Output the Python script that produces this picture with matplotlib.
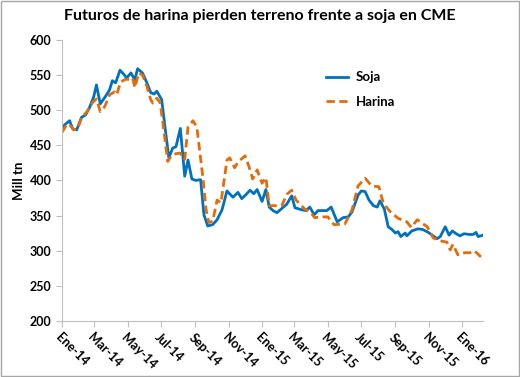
import matplotlib
matplotlib.use("Agg")
import matplotlib.pyplot as plt
import pandas as pd

plt.rcParams['font.family'] = ['Lato', 'DejaVu Sans']

# Soja
soja_fechas = [
    "2014-01-01", "2014-01-06", "2014-01-15", "2014-01-21", "2014-01-28", "2014-02-06",
    "2014-02-13", "2014-02-20", "2014-02-28", "2014-03-05", "2014-03-12", "2014-03-21",
    "2014-03-29", "2014-04-03", "2014-04-09", "2014-04-17", "2014-04-24", "2014-04-29",
    "2014-05-07", "2014-05-14", "2014-05-19", "2014-05-28", "2014-06-05", "2014-06-12",
    "2014-06-18", "2014-06-23", "2014-07-02", "2014-07-08", "2014-07-15", "2014-07-22",
    "2014-07-28", "2014-08-05", "2014-08-13", "2014-08-19", "2014-08-26", "2014-09-02",
    "2014-09-11", "2014-09-17", "2014-09-24", "2014-10-03", "2014-10-11", "2014-10-20",
    "2014-10-29", "2014-11-09", "2014-11-18", "2014-11-25", "2014-12-03", "2014-12-10",
    "2014-12-17", "2014-12-23", "2015-01-01", "2015-01-08", "2015-01-14", "2015-01-21",
    "2015-01-28", "2015-02-06", "2015-02-15", "2015-02-24", "2015-03-02", "2015-03-15",
    "2015-03-22", "2015-03-29", "2015-04-06", "2015-04-13", "2015-04-29", "2015-05-07",
    "2015-05-18", "2015-05-29", "2015-06-07", "2015-06-14", "2015-06-20", "2015-06-25",
    "2015-07-01", "2015-07-08", "2015-07-15", "2015-07-23", "2015-07-30", "2015-08-04",
    "2015-08-12", "2015-08-19", "2015-08-26", "2015-09-01", "2015-09-06", "2015-09-11",
    "2015-09-19", "2015-09-22", "2015-10-01", "2015-10-12", "2015-10-21", "2015-10-31",
    "2015-11-09", "2015-11-16", "2015-11-22", "2015-12-01", "2015-12-08", "2015-12-14",
    "2015-12-21", "2015-12-28", "2016-01-04", "2016-01-14", "2016-01-21", "2016-01-26",
    "2016-01-30", "2016-02-08",
]
soja = [
    475, 479, 485, 473, 472, 490,
    493, 503, 519, 536, 509, 519,
    529, 542, 539, 557, 551, 546,
    553, 543, 559, 553, 539, 525,
    523, 527, 515, 476, 432, 446,
    448, 474, 406, 429, 402, 400,
    401, 351, 335, 337, 344, 358,
    385, 376, 383, 374, 380, 386,
    381, 387, 370, 387, 362, 357,
    354, 360, 366, 378, 361, 358,
    357, 362, 351, 357, 357, 362,
    341, 347, 348, 355, 368, 379,
    385, 384, 372, 364, 362, 371,
    359, 334, 330, 325, 327, 320,
    325, 321, 328, 331, 330, 326,
    321, 317, 320, 334, 322, 328,
    324, 321, 324, 323, 323, 326,
    320, 322,
]

# Harina
harina_fechas = [
    "2014-01-01", "2014-01-10", "2014-01-15", "2014-01-23", "2014-01-30", "2014-02-06",
    "2014-02-15", "2014-02-26", "2014-03-05", "2014-03-12", "2014-03-20", "2014-03-29",
    "2014-04-07", "2014-04-11", "2014-04-18", "2014-04-27", "2014-05-05", "2014-05-10",
    "2014-05-14", "2014-05-21", "2014-05-28", "2014-06-05", "2014-06-12", "2014-06-16",
    "2014-06-23", "2014-06-29", "2014-07-04", "2014-07-13", "2014-07-20", "2014-07-28",
    "2014-08-04", "2014-08-13", "2014-08-19", "2014-08-28", "2014-09-04", "2014-09-15",
    "2014-09-21", "2014-09-26", "2014-10-03", "2014-10-11", "2014-10-18", "2014-10-29",
    "2014-11-03", "2014-11-12", "2014-11-18", "2014-12-01", "2014-12-08", "2014-12-15",
    "2014-12-23", "2015-01-01", "2015-01-08", "2015-01-14", "2015-01-25", "2015-02-06",
    "2015-02-15", "2015-02-24", "2015-03-04", "2015-03-20", "2015-03-31", "2015-04-07",
    "2015-04-22", "2015-05-01", "2015-05-12", "2015-06-01", "2015-06-14", "2015-06-25",
    "2015-07-02", "2015-07-08", "2015-07-20", "2015-08-02", "2015-08-10", "2015-08-22",
    "2015-09-06", "2015-09-22", "2015-09-30", "2015-10-11", "2015-10-29", "2015-11-09",
    "2015-11-22", "2015-12-04", "2015-12-10", "2015-12-15", "2015-12-24", "2016-01-06",
    "2016-01-15", "2016-01-23", "2016-02-04",
]
harina = [
    468, 480, 479, 472, 474, 490,
    497, 511, 516, 498, 505, 522,
    526, 522, 540, 544, 544, 546,
    532, 553, 550, 534, 515, 510,
    517, 511, 483, 427, 436, 438,
    439, 430, 476, 485, 476, 405,
    358, 340, 342, 372, 368, 429,
    432, 418, 426, 435, 420, 402,
    415, 396, 404, 364, 364, 364,
    380, 386, 372, 359, 354, 347,
    348, 348, 337, 338, 358, 392,
    398, 403, 392, 391, 368, 356,
    346, 341, 333, 344, 334, 318,
    314, 312, 301, 309, 294, 297,
    297, 300, 291,
]

etiquetas = ["Ene-14", "Mar-14", "May-14", "Jul-14", "Sep-14", "Nov-14", "Ene-15",
             "Mar-15", "May-15", "Jul-15", "Sep-15", "Nov-15", "Ene-16"]
ticks = pd.date_range("2014-01-01", "2016-01-01", freq="2MS")

fig = plt.figure(figsize=(5.2, 3.77), dpi=100)
ax = fig.add_axes([0.119, 0.149, 0.81, 0.745])

ax.plot(pd.to_datetime(soja_fechas), soja, color="#0070C0", lw=2.0, label="Soja")
ax.plot(pd.to_datetime(harina_fechas), harina, color="#E36C09", lw=2.0,
        ls=(0, (3, 1.6)), label="Harina")

ax.set_ylim(200, 600)
ax.set_yticks(range(200, 601, 50))
ax.set_xlim(pd.Timestamp("2014-01-01"), pd.Timestamp("2016-02-08"))
ax.set_xticks(ticks)
ax.set_xticklabels(etiquetas, rotation=-45, ha="left", rotation_mode="anchor")

for s in ["top", "right"]:
    ax.spines[s].set_visible(False)
for s in ["left", "bottom"]:
    ax.spines[s].set_color("#BFBFBF")
ax.tick_params(axis="both", colors="#BFBFBF", labelcolor="black", length=4, width=0.8)
for lab in ax.get_xticklabels() + ax.get_yticklabels():
    lab.set_fontweight("bold")
    lab.set_fontsize(9)

ax.set_ylabel("Mill tn", fontsize=9.5, fontweight="bold", labelpad=3)
fig.suptitle("Futuros de harina pierden terreno frente a soja en CME",
             fontsize=11.5, fontweight="bold", x=0.5, y=0.975)

leg = ax.legend(loc="upper left", bbox_to_anchor=(0.6, 0.93), frameon=False,
                prop={"weight": "bold", "size": 9.5}, handlelength=1.6,
                handletextpad=0.6, labelspacing=0.95)

fig.patches.append(plt.Rectangle((0.002, 0.002), 0.996, 0.996, transform=fig.transFigure,
                                 fill=False, ec="#A6A6A6", lw=1))
fig.savefig("out.png", dpi=100)
